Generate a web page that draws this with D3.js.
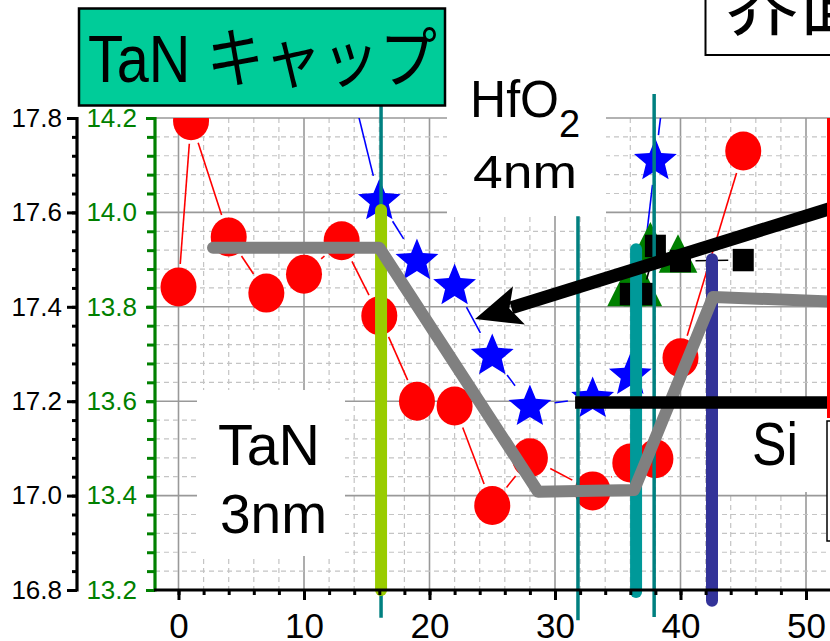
<!DOCTYPE html>
<html>
<head>
<meta charset="utf-8">
<script src="https://cdn.jsdelivr.net/npm/d3@7"></script>
<style>
  body { margin: 0; background: #fff; }
  svg { display: block; }
  text { font-family: "Liberation Sans", Arial, "Noto Sans CJK JP", sans-serif; }
</style>
</head>
<body>
<svg id="chart" width="830" height="641"></svg>
<script>
// ---- data (depth position in nm, values on left / right axes) ----
// red circles (left axis)
const redX = [0, 1, 4, 7, 10, 13, 16, 19, 22, 25, 28, 33, 36, 38, 40, 45];
const redY = [17.442, 17.794, 17.548, 17.429, 17.469, 17.540, 17.381, 17.200, 17.190, 16.979, 17.080, 17.010, 17.069, 17.078, 17.292, 17.730];
// blue stars (left axis)
const starX = [13, 16, 19, 22, 25, 28, 33, 36, 38, 40];
const starY = [17.95, 17.626, 17.499, 17.446, 17.298, 17.19, 17.207, 17.256, 17.711, 18.15];
// green triangles (green axis)
const triX = [35.7, 37.0, 37.6, 39.8];
const triY = [13.842, 13.842, 13.939, 13.913];
// black squares (green axis)
const sqX = [36, 37, 38, 40, 45];
const sqY = [13.827, 13.827, 13.929, 13.897, 13.899];
// grey layer profile (left axis)
const profX = [2.75, 16.0, 28.65, 36.3, 42.6, 52];
const profY = [17.525, 17.525, 17.008, 17.012, 17.421, 17.411];
// vertical interface markers: position, top and bottom (left-axis units)
const bandX   = [16.14, 31.83, 37.9, 16.14, 36.46, 42.51];
const bandTop = [17.84, 17.592, 17.851, 17.605, 17.522, 17.501];
const bandBot = [16.741, 16.736, 16.743, 16.8, 16.796, 16.777];
// pointer arrow and bar (left axis units)
const arrowFrom = [53, 17.617];
const arrowTo   = [23.63, 17.374];
const barFrom   = [31.6, 17.197];
const barTo     = [53, 17.197];
// tick labels
const leftTicks  = [16.8, 17.0, 17.2, 17.4, 17.6, 17.8];
const greenTicks = [13.2, 13.4, 13.6, 13.8, 14.0, 14.2];
const xTicks     = [0, 10, 20, 30, 40, 50];

// ---- scales ----
const svg = d3.select("#chart");
const P = { left: 155, right: 830, top: 118, bottom: 590 };
const x  = d3.scaleLinear().domain([0, 50]).range([178.5, 806]);
const yL = d3.scaleLinear().domain([16.8, 17.8]).range([P.bottom, P.top]);
const yG = d3.scaleLinear().domain([13.2, 14.2]).range([P.bottom, P.top]);

svg.append("defs").append("clipPath").attr("id", "plotClip")
  .append("rect").attr("x", P.left).attr("y", P.top)
  .attr("width", P.right - P.left + 10).attr("height", P.bottom - P.top);

// ---- grid ----
const grid = svg.append("g");
const xGrid = d3.range(0, 52, 2);
grid.selectAll(".vg").data(xGrid).join("line")
  .attr("x1", d => x(d)).attr("x2", d => x(d))
  .attr("y1", P.top).attr("y2", P.bottom)
  .attr("stroke", d => d % 10 === 0 ? "#999" : "#c4c4c4")
  .attr("stroke-width", d => d % 10 === 0 ? 1.6 : 1.2)
  .attr("stroke-dasharray", d => d % 10 === 0 ? null : "5,4");
const yGrid = d3.range(1, 26);
grid.selectAll(".hg").data(yGrid).join("line")
  .attr("x1", P.left).attr("x2", P.right)
  .attr("y1", i => yL(16.8 + i * 0.04)).attr("y2", i => yL(16.8 + i * 0.04))
  .attr("stroke", i => i % 5 === 0 ? "#999" : "#c4c4c4")
  .attr("stroke-width", i => i % 5 === 0 ? 1.6 : 1.2)
  .attr("stroke-dasharray", i => i % 5 === 0 ? null : "5,4");

// ---- white label panels inside the plot ----
const panels = svg.append("g");
panels.append("rect").attr("x", 447).attr("y", 56).attr("width", 159).attr("height", 160).attr("fill", "#fff");
panels.append("rect").attr("x", 197).attr("y", 390).attr("width", 148).attr("height", 166).attr("fill", "#fff");
panels.append("rect").attr("x", 718).attr("y", 408).attr("width", 109).attr("height", 84).attr("fill", "#fff");

// ---- series ----
const series = svg.append("g").attr("clip-path", "url(#plotClip)");

function gapped(xs, ys, ys_scale, gap) {
  const pts = xs.map((d, i) => [x(d), ys_scale(ys[i])]);
  return d3.pairs(pts).map(([a, b]) => {
    const dx = b[0] - a[0], dy = b[1] - a[1], L = Math.hypot(dx, dy);
    if (L <= 2 * gap) return null;
    const ux = dx / L, uy = dy / L;
    return [a[0] + ux * gap, a[1] + uy * gap, b[0] - ux * gap, b[1] - uy * gap];
  }).filter(Boolean);
}
function drawLinks(sel, segs, color) {
  sel.selectAll(null).data(segs).join("line")
    .attr("x1", s => s[0]).attr("y1", s => s[1])
    .attr("x2", s => s[2]).attr("y2", s => s[3])
    .attr("stroke", color).attr("stroke-width", 1.6);
}

// red circles
const redG = series.append("g");
drawLinks(redG, gapped(redX, redY, yL, 23), "#ff0000");
redG.selectAll("ellipse").data(redX).join("ellipse")
  .attr("cx", d => x(d)).attr("cy", (d, i) => yL(redY[i]))
  .attr("rx", 18).attr("ry", 19.5).attr("fill", "#ff0000");

// blue stars
function starPath(R, r) {
  const p = d3.path();
  for (let k = 0; k < 10; k++) {
    const a = -Math.PI / 2 + k * Math.PI / 5, rad = k % 2 ? r : R;
    const px = rad * Math.cos(a), py = rad * Math.sin(a);
    k ? p.lineTo(px, py) : p.moveTo(px, py);
  }
  p.closePath();
  return p.toString();
}
const starG = series.append("g");
drawLinks(starG, gapped(starX, starY, yL, 25), "#0000ff");
starG.selectAll("path").data(starX).join("path")
  .attr("d", starPath(22.5, 10))
  .attr("transform", (d, i) => `translate(${x(d)},${yL(starY[i]) + 1})`)
  .attr("fill", "#0000ff");

// green triangles
const triG = series.append("g");
drawLinks(triG, gapped(triX, triY, yG, 22), "#008000");
triG.selectAll("path").data(triX).join("path")
  .attr("d", "M0,-19.2L19.3,19.2L-19.3,19.2Z")
  .attr("transform", (d, i) => `translate(${x(d)},${yG(triY[i])})`)
  .attr("fill", "#008000");

// black squares
const sqG = series.append("g");
drawLinks(sqG, gapped(sqX, sqY, yG, 15), "#000");
sqG.selectAll("rect").data(sqX).join("rect")
  .attr("x", d => x(d) - 10.5).attr("y", (d, i) => yG(sqY[i]) - 11.2)
  .attr("width", 21).attr("height", 22.4).attr("fill", "#000");

// ---- vertical interface markers (thin guides first, thick bands on top) ----
const bandColor = ["#008080", "#008080", "#008080", "#99cc00", "#009999", "#333399"];
const bandWidth = [3.5, 3.5, 3.5, 12, 12, 12];
svg.append("g").selectAll("line").data(bandX).join("line")
  .attr("x1", d => x(d)).attr("x2", d => x(d))
  .attr("y1", (d, i) => yL(bandTop[i])).attr("y2", (d, i) => yL(bandBot[i]))
  .attr("stroke", (d, i) => bandColor[i])
  .attr("stroke-width", (d, i) => bandWidth[i])
  .attr("stroke-linecap", (d, i) => bandWidth[i] > 6 ? "round" : "butt");

// ---- grey profile ----
svg.append("path")
  .datum(profX.map((d, i) => [d, profY[i]]))
  .attr("d", d3.line().x(d => x(d[0])).y(d => yL(d[1])))
  .attr("fill", "none").attr("stroke", "#808080").attr("stroke-width", 12)
  .attr("stroke-linejoin", "round").attr("stroke-linecap", "round");

// ---- pointer arrow and bar ----
(function () {
  const tx = x(arrowTo[0]), ty = yL(arrowTo[1]);
  const fx = x(arrowFrom[0]), fy = yL(arrowFrom[1]);
  const L = Math.hypot(fx - tx, fy - ty), ux = (fx - tx) / L, uy = (fy - ty) / L;
  const nx = -uy, ny = ux, HL = 46, HW = 20;
  svg.append("line")
    .attr("x1", tx + ux * (HL - 8)).attr("y1", ty + uy * (HL - 8))
    .attr("x2", fx).attr("y2", fy)
    .attr("stroke", "#000").attr("stroke-width", 13);
  const pts = [
    [tx, ty],
    [tx + ux * HL + nx * HW, ty + uy * HL + ny * HW],
    [tx + ux * HL * 0.78, ty + uy * HL * 0.78],
    [tx + ux * HL - nx * HW, ty + uy * HL - ny * HW]
  ];
  svg.append("path").attr("d", "M" + pts.join("L") + "Z").attr("fill", "#000");
  svg.append("line")
    .attr("x1", x(barFrom[0])).attr("y1", yL(barFrom[1]))
    .attr("x2", x(barTo[0])).attr("y2", yL(barTo[1]))
    .attr("stroke", "#000").attr("stroke-width", 12.5);
})();

// ---- axes ----
function styleAxis(g, color, fontSize) {
  g.selectAll("path.domain").remove();
  g.selectAll(".tick line").attr("stroke", color).attr("stroke-width", 3);
  g.selectAll(".tick text").attr("fill", color).style("font-size", fontSize + "px")
    .style("font-family", "'Liberation Sans', Arial, sans-serif");
}
const minorL = d3.range(0, 26).map(i => +(16.8 + i * 0.04).toFixed(2));
const minorG = d3.range(0, 26).map(i => +(13.2 + i * 0.04).toFixed(2));

const axL = svg.append("g").attr("transform", "translate(77,0)");
axL.call(d3.axisLeft(yL).tickValues(minorL).tickSize(5).tickSizeOuter(0).tickFormat(""));
axL.append("g").call(d3.axisLeft(yL).tickValues(leftTicks).tickSize(10).tickSizeOuter(0).tickPadding(5).tickFormat(d3.format(".1f")));
styleAxis(axL, "#000", 26);
axL.append("line").attr("x1", 0).attr("x2", 0).attr("y1", P.top - 1).attr("y2", P.bottom + 1.5)
  .attr("stroke", "#000").attr("stroke-width", 3.2);

const axG = svg.append("g").attr("transform", "translate(155,0)");
axG.call(d3.axisLeft(yG).tickValues(minorG).tickSize(8).tickSizeOuter(0).tickFormat(""));
axG.append("g").call(d3.axisLeft(yG).tickValues(greenTicks).tickSize(9).tickSizeOuter(0).tickPadding(9).tickFormat(d3.format(".1f")));
styleAxis(axG, "#008000", 26);
axG.append("line").attr("x1", 0).attr("x2", 0).attr("y1", P.top - 1).attr("y2", P.bottom + 1.5)
  .attr("stroke", "#008000").attr("stroke-width", 3.2);

const axX = svg.append("g").attr("transform", `translate(0,${P.bottom})`);
axX.call(d3.axisBottom(x).tickValues(d3.range(0, 52, 2)).tickSize(5).tickSizeOuter(0).tickFormat(""));
axX.append("g").call(d3.axisBottom(x).tickValues(xTicks).tickSize(10).tickSizeOuter(0).tickPadding(13).tickFormat(d3.format("d")));
styleAxis(axX, "#000", 35);
axX.append("line").attr("x1", P.left - 1).attr("x2", P.right).attr("y1", 0).attr("y2", 0)
  .attr("stroke", "#000").attr("stroke-width", 3.2);

// right-hand axis edge
svg.append("line").attr("x1", 828.5).attr("x2", 828.5).attr("y1", P.top).attr("y2", 418)
  .attr("stroke", "#ff0000").attr("stroke-width", 3);
svg.append("rect").attr("x", 827).attr("y", 421).attr("width", 20).attr("height", 120)
  .attr("fill", "#fff").attr("stroke", "#000").attr("stroke-width", 1.5);

// ---- text labels ----
const hf = svg.append("text").attr("x", 470).attr("y", 117).style("font-size", "52px").attr("fill", "#000");
hf.append("tspan").text("HfO").attr("textLength", 89).attr("lengthAdjust", "spacingAndGlyphs");
hf.append("tspan").text("2").style("font-size", "38px").attr("dy", 20);
svg.append("text").attr("x", 473).attr("y", 188).style("font-size", "46px")
  .attr("textLength", 104).attr("lengthAdjust", "spacingAndGlyphs").text("4nm");

svg.append("text").attr("x", 218).attr("y", 465).style("font-size", "58px")
  .attr("textLength", 102).attr("lengthAdjust", "spacingAndGlyphs").text("TaN");
svg.append("text").attr("x", 220).attr("y", 533).style("font-size", "56px")
  .attr("textLength", 107).attr("lengthAdjust", "spacingAndGlyphs").text("3nm");
svg.append("text").attr("x", 752).attr("y", 465).style("font-size", "62px")
  .attr("textLength", 46).attr("lengthAdjust", "spacingAndGlyphs").text("Si");

// title boxes
svg.append("rect").attr("x", 79).attr("y", 8.5).attr("width", 366).attr("height", 97)
  .attr("fill", "#00cc99").attr("stroke", "#000").attr("stroke-width", 2.5);
svg.append("text").attr("x", 88).attr("y", 82).style("font-size", "66px").attr("fill", "#000")
  .attr("textLength", 349).attr("lengthAdjust", "spacingAndGlyphs").text("TaN キャップ");

svg.append("rect").attr("x", 705.5).attr("y", -10).attr("width", 200).attr("height", 65)
  .attr("fill", "#fff").attr("stroke", "#000").attr("stroke-width", 2);
svg.append("text").attr("x", 725).attr("y", 29).style("font-size", "74px")
  .style("font-family", "'Noto Sans CJK JP', sans-serif").attr("fill", "#000").text("界面");
</script>
</body>
</html>
